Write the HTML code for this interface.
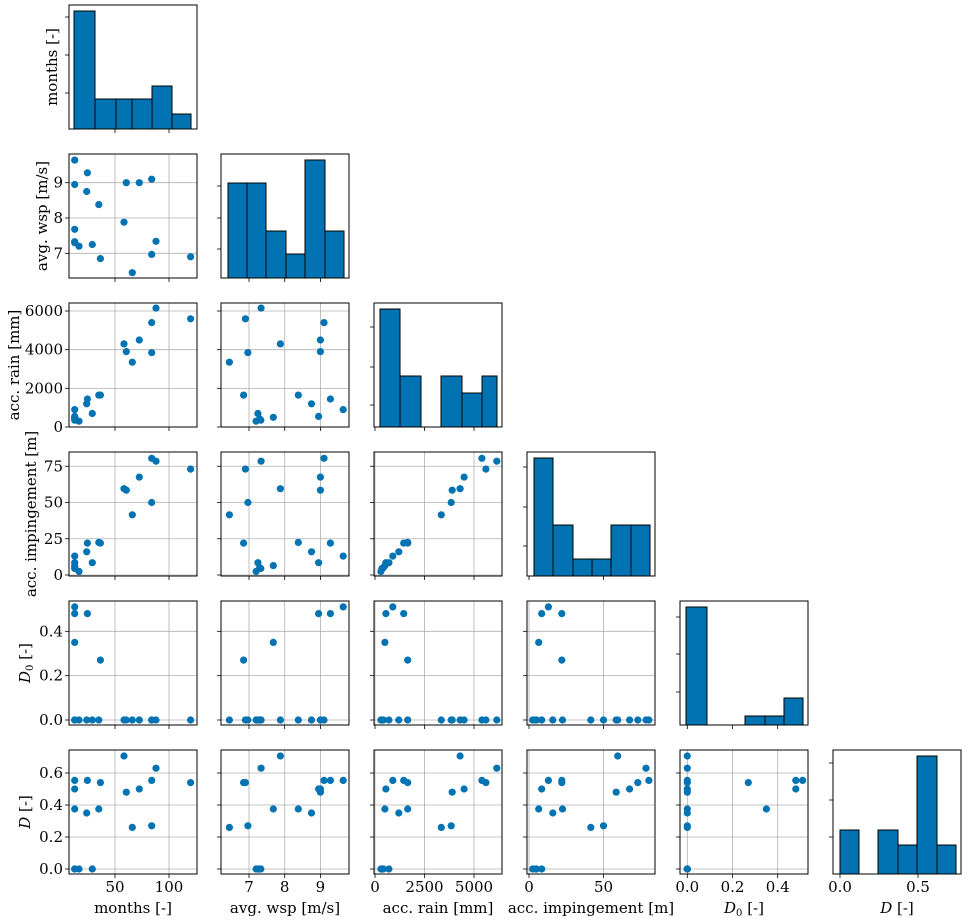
<!DOCTYPE html>
<html><head><meta charset="utf-8"><style>
html,body{margin:0;padding:0;background:#fff;}
svg{display:block;font-family:"DejaVu Serif","Liberation Serif",serif;}
</style></head><body>
<svg id="s" width="971" height="921" xmlns="http://www.w3.org/2000/svg"></svg>
<script>
const S=document.getElementById('s');let h='';
const CX=[69,221,374,527,680,833],RY=[5,154,303,452,601,750],W=128,H=124;
const C='#0173b2';
const P=[
[12.7,9.64,900,13,0.51,0.554],[12.7,8.95,550,8.5,0.48,0.50],[12.7,7.68,500,6.5,0.35,0.375],
[12.7,7.3,420,5,0,0],[12.7,7.33,350,4.5,0,0],[16.7,7.2,300,2.5,0,0],
[23.8,8.75,1200,16,0,0.35],[24.4,9.28,1450,22,0.48,0.554],[29,7.25,700,8.5,0,0],
[35,8.38,1650,22.5,0,0.375],[36.5,6.85,1650,22,0.27,0.54],[58.3,7.88,4300,59.5,0,0.706],
[60.5,9.0,3900,58.5,0,0.48],[66,6.45,3350,41.5,0,0.26],[72.5,9.0,4500,67.5,0,0.50],
[84,6.97,3850,50,0,0.27],[84,9.1,5400,80.5,0,0.554],[88,7.34,6150,78.5,0,0.63],[120,6.9,5600,73,0,0.54]];
const fx=[v=>61+v*1.08,v=>249+(v-7)*35.7,v=>375+v*0.0198,v=>529+v*1.49,v=>687.3+v*226,v=>840+v*156];
const fy=[null,v=>253.3-(v-7)*35.3,v=>427-v*0.01933,v=>575-v*1.45,v=>720-v*221.7,v=>869-v*160];
const XT=[[50,100],[7,8,9],[0,2500,5000],[0,50],[0,0.2,0.4],[0,0.5]];
const XL=[['50','100'],['7','8','9'],['0','2500','5000'],['0','50'],['0.0','0.2','0.4'],['0.0','0.5']];
const YT=[null,[7,8,9],[0,2000,4000,6000],[0,25,50,75],[0,0.2,0.4],[0,0.2,0.4,0.6]];
const YL=[null,['7','8','9'],['0','2000','4000','6000'],['0','25','50','75'],['0.0','0.2','0.4'],['0.0','0.2','0.4','0.6']];
const HIST=[
[[74,95,11],[95,116,99],[116,132,99],[132,152,99],[152,172,86],[172,191,114]],
[[228,247,183],[247,266,183],[266,286,231],[286,305,254],[305,325,160],[325,344,231]],
[[380,400,309],[400,421,376],[441,462,376],[462,482,393],[482,497,376]],
[[534,553,458],[553,573,525],[573,592,559],[592,611,559],[611,631,525],[631,650,525]],
[[686,707,607],[745,765,716],[765,784,716],[784,803,698]],
[[840,859,830],[878,898,830],[898,917,845],[917,937,756],[937,956,845]]];
const HT=[[17,55,93],[186,218,249],[327,367,405],[467,507,546],[617,654,692],[763,800,837]];
for(let r=0;r<6;r++){for(let c=0;c<=r;c++){
 const x0=CX[c],y0=RY[r],x1=x0+W,y1=y0+H;
 if(r==c){
  for(const b of HIST[r]) h+=`<rect x="${b[0]}" y="${b[2]}" width="${b[1]-b[0]}" height="${y1-b[2]}" fill="${C}" stroke="#000" stroke-width="1"/>`;
  for(const t of HT[r]) h+=`<line x1="${x0-4}" x2="${x0}" y1="${t}" y2="${t}" stroke="#000" stroke-width="0.8"/>`;
 } else {
  for(const t of XT[c]){const x=fx[c](t);h+=`<line x1="${x}" x2="${x}" y1="${y0}" y2="${y1}" stroke="#b0b0b0" stroke-width="0.8"/>`;}
  for(const t of YT[r]){const y=fy[r](t);h+=`<line x1="${x0}" x2="${x1}" y1="${y}" y2="${y}" stroke="#b0b0b0" stroke-width="0.8"/>`;
   h+=`<line x1="${x0-4}" x2="${x0}" y1="${y}" y2="${y}" stroke="#000" stroke-width="0.8"/>`;}
  for(const p of P) h+=`<circle cx="${fx[c](p[c]).toFixed(1)}" cy="${fy[r](p[r]).toFixed(1)}" r="3.6" fill="${C}"/>`;
 }
 for(const t of XT[c]){const x=fx[c](t);h+=`<line x1="${x}" x2="${x}" y1="${y1}" y2="${y1+4}" stroke="#000" stroke-width="0.8"/>`;}
 h+=`<rect x="${x0}" y="${y0}" width="${W}" height="${H}" fill="none" stroke="#000" stroke-width="1"/>`;
}}
const XN=['months [-]','avg. wsp [m/s]','acc. rain [mm]','acc. impingement [m]','<tspan font-style="italic">D</tspan><tspan font-size="10" dy="3">0</tspan><tspan dy="-3"> [-]</tspan>','<tspan font-style="italic">D</tspan> [-]'];
for(let c=0;c<6;c++){XT[c].forEach((t,i)=>{h+=`<text x="${fx[c](t)}" y="892" font-size="15" text-anchor="middle">${XL[c][i]}</text>`;});
 h+=`<text x="${CX[c]+W/2}" y="913" font-size="15" text-anchor="middle">${XN[c]}</text>`;}
for(let r=1;r<6;r++){YT[r].forEach((t,i)=>{h+=`<text x="63" y="${fy[r](t)+5}" font-size="15" text-anchor="end">${YL[r][i]}</text>`;});}
const YN=[[52,'months [-]'],[42,'avg. wsp [m/s]'],[14,'acc. rain [mm]'],[31,'acc. impingement [m]'],[25,'<tspan font-style="italic">D</tspan><tspan font-size="10" dy="3">0</tspan><tspan dy="-3"> [-]</tspan>'],[25,'<tspan font-style="italic">D</tspan> [-]']];
YN.forEach((v,r)=>{const cy=RY[r]+H/2;h+=`<text transform="translate(${v[0]+5},${cy}) rotate(-90)" font-size="15" text-anchor="middle">${v[1]}</text>`;});
S.innerHTML=h;
</script>
</body></html>
